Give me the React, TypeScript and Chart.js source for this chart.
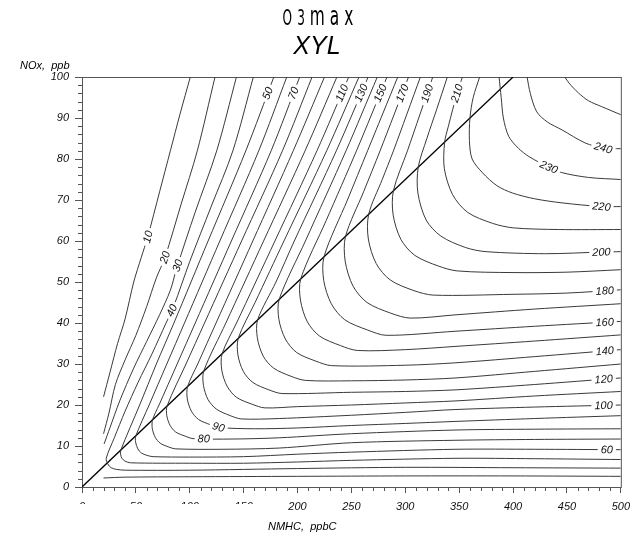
import React, { useEffect, useRef } from "react";
import { Chart, registerables } from "chart.js";
Chart.register(...registerables);

const xTicks = [0, 50, 100, 150, 200, 250, 300, 350, 400, 450, 500];
const yTicks = [0, 10, 20, 30, 40, 50, 60, 70, 80, 90, 100];

// Ozone isopleths (NMHC ppbC, NOx ppb)
const c10 = [[100.5,100],[91,91],[82,82],[72,72],[61,61],[55,56],[48,50],[40,41],[33,35],[26,28],[20,22]];
const c20 = [[123.4,100],[107,82],[92,69],[77,56],[69,51],[60,44],[50,37],[40,31],[31,25],[25,18],[20,13]];
const c30a = [[143.3,100],[125,82],[105,67],[88,53.5],[82,48],[72,42],[60,35.5],[48,29],[35,21],[26,14.5],[20.5,10.5]];
const c30b = [[20,2.2],[40,2.4],[100,2.5],[200,2.6],[300,2.7],[400,2.7],[500,2.6]];
const c40 = [[159,100],[140,82],[120,68.5],[100,55],[85,44],[78,40],[65,32.5],[52,25.5],[40,18.5],[30,12],[22.5,7],[24,5.6],[27,4.7],[32,4.3],[40,4.1],[100,4.1],[200,4.5],[300,4.8],[400,4.7],[500,4.6]];
const c50 = [[178,100],[152,82],[117,60],[85.3,40],[69,30],[53.5,20],[36,9],[35.8,8],[37,7],[40,6.3],[45,5.9],[100,5.8],[150,5.8],[200,6.1],[250,6.5],[347,7],[420,6.9],[500,6.7]];
const c60 = [[190,100],[164,82],[127.9,60],[95.1,40],[78.7,30],[62.3,20],[50,12.5],[49.7,11],[51.8,9.3],[55,8.3],[60.5,7.7],[66,7.4],[100,7.3],[150,7.4],[200,8],[250,8.5],[347,9.2],[420,9.2],[500,9.1]];
const c70 = [[202,100],[175.5,82],[138.6,60],[105.1,40],[88.3,30],[71.5,20],[65.5,16.4],[65.2,14.3],[68,12.1],[72.5,10.7],[80,9.8],[87,9.3],[130,9.2],[183,9.5],[250,10.8],[347,11.4],[420,11.6],[500,11.7]];
const c80 = [[213.5,100],[186,82],[148.1,60],[113.7,40],[96.5,30],[79,19.8],[78.7,17.4],[81.8,15],[87,13.4],[95.8,12.4],[103,11.8],[140,11.7],[183,12],[250,13],[347,13.9],[420,14.1],[500,14.2]];
const c90 = [[225,100],[196,82],[158.5,60],[124.4,40],[107.4,30],[98,24.5],[97.7,21.5],[101.5,18.5],[108,16.5],[119,15.2],[128,14.5],[160,14.2],[200,14.4],[250,15],[300,15.5],[347,16],[420,16.7],[500,17.4]];
const c100 = [[236.5,100],[207,82],[168.5,60],[133.5,40],[113,28.3],[112.7,24.8],[117,21.3],[124.7,19],[137.6,17.4],[148,16.6],[183,16.7],[250,17.5],[300,18.2],[347,18.9],[420,19.5],[500,20]];
const c110 = [[247.5,100],[218,82],[179,60],[143.4,40],[130,32.5],[129.7,28.5],[134.6,24.6],[143.2,21.9],[157.7,20.2],[169.6,19.3],[200,19.6],[250,20],[300,20.5],[347,21],[420,22.2],[500,23.3]];
const c120 = [[257,100],[227,82],[187.4,60],[160.6,45],[145,36.3],[144.7,32.2],[149.7,28.2],[158.5,25.5],[173.4,23.7],[185.5,22.8],[250,23.1],[300,23.3],[347,23.7],[420,25],[500,26.6]];
const c130 = [[265.5,100],[236,82],[197,60],[180,50],[163,40.8],[162.7,36.4],[168.2,31.9],[177.8,29],[194,27],[207.4,26],[250,25.9],[300,26.1],[347,26.6],[420,28.2],[500,30]];
const c140 = [[274,100],[245,82],[207.3,60],[183,45.8],[182.7,40.9],[188.7,36.1],[199.2,32.8],[217,30.7],[231.6,29.6],[300,29.7],[347,30.3],[420,31.8],[500,33.5]];
const c150 = [[283,100],[254.7,82],[226.6,65],[203,50.8],[202.7,45.6],[209.1,40.3],[220.5,36.8],[239.8,34.5],[255.5,33.3],[300,33.5],[347,34.3],[420,35.6],[500,37.1]];
const c160 = [[293,100],[265,82],[246.3,70],[224.6,56.2],[224.3,50.4],[231.3,44.7],[243.8,40.8],[264.9,38.3],[282.2,37],[347,38],[420,39.2],[500,40.4]];
const c170 = [[303,100],[276.6,82],[261.3,72],[244.5,61.1],[244.2,55.1],[251.5,49],[264.5,45],[286.5,42.4],[304.5,41.2],[347,42],[420,43.4],[500,44.7]];
const c180 = [[314,100],[289,82],[278.6,75],[266,66.5],[265.7,60.5],[273,54.5],[286,50.5],[308,47.9],[326,46.8],[400,47],[450,47.3],[500,48.1]];
const c190 = [[325.5,100],[302,82],[289,72.3],[288.7,66.4],[295.9,60.4],[308.8,56.5],[330.6,53.9],[348.4,52.7],[400,52.3],[450,52.4],[500,53]];
const c200 = [[339,100],[329,92],[320,85],[312,78],[311.7,71.7],[319.4,65.1],[333,61.2],[356,58.4],[375,57.4],[430,56.9],[482,57.3],[500,57.4]];
const c210 = [[353,100],[348,96],[340,88],[336.5,84.1],[336.2,77.7],[343.9,71.3],[357.8,67],[381,64.3],[400.4,63.2],[442,62.8],[500,62.8]];
const c220 = [[369,100],[363,95],[360,90],[359.5,84.5],[362,80],[371.8,76.6],[385,73.5],[399.5,71.7],[420,70.3],[445.4,69.3],[482,68.4],[500,68.4]];
const c230 = [[387,100],[389,95],[391,90],[396,85.5],[405,82.6],[414.7,80.6],[431.6,78.2],[445,76.7],[470,75.5],[500,75]];
const c240 = [[413,100],[416,96],[422,91.5],[432,89],[445.4,87.1],[467,83.9],[483.7,82.7],[500,82.5]];
const c250 = [[448,100],[452,98.5],[460.7,96.1],[470,94.2],[482,92.8],[500,90.8]];

// 4:1 NMHC/NOx ridge line
const ridge = [[0,0],[400,100]];

const contours: [string, number[][]][] = [
  ["10", c10], ["20", c20], ["30", c30a], ["30b", c30b], ["40", c40], ["50", c50],
  ["60", c60], ["70", c70], ["80", c80], ["90", c90], ["100", c100], ["110", c110],
  ["120", c120], ["130", c130], ["140", c140], ["150", c150], ["160", c160],
  ["170", c170], ["180", c180], ["190", c190], ["200", c200], ["210", c210],
  ["220", c220], ["230", c230], ["240", c240], ["250", c250],
];

// contour labels: [level, approx NMHC, approx NOx]
const contourLabels: [string, number, number][] = [
  ["10", 61, 61], ["20", 77, 56], ["30", 88.5, 54], ["40", 84, 43],
  ["50", 172.5, 96], ["70", 196.5, 96], ["110", 242, 96], ["130", 260, 96],
  ["150", 277.5, 96], ["170", 297.5, 96], ["190", 320, 96], ["210", 348, 96],
  ["240", 483.7, 82.7], ["230", 433, 77.9], ["220", 482, 68.4], ["200", 482, 57.3],
  ["180", 485, 48.1], ["160", 485, 40.4], ["140", 485, 33.5], ["120", 484, 26.6],
  ["100", 484, 20], ["60", 487, 9.1], ["90", 126.5, 14.5], ["80", 113, 11.8],
];

const FONT = "'Liberation Sans', Arial, sans-serif";

export default function App() {
  const ref = useRef<HTMLCanvasElement>(null);
  useEffect(() => {
    document.body.style.margin = "0";
    const canvas = ref.current!;
    const toXY = (a: number[][]) => a.map(([x, y]) => ({ x, y }));
    const datasets: any[] = contours.map(([lvl, pts]) => ({
      label: lvl,
      data: toXY(pts),
      borderColor: "#3a3a3a",
      borderWidth: 1,
      pointRadius: 0,
      tension: 0.3,
      fill: false,
    }));
    datasets.push({
      label: "ridge",
      data: toXY(ridge),
      borderColor: "#000",
      borderWidth: 1.3,
      pointRadius: 0,
      tension: 0,
      fill: false,
    });

    const framePlugin = {
      id: "frame",
      beforeDatasetsDraw(chart: any) {
        const { ctx, chartArea: ca, scales } = chart;
        ctx.save();
        ctx.strokeStyle = "#555";
        ctx.lineWidth = 1;
        ctx.strokeRect(ca.left + 0.5, ca.top + 0.5, ca.right - ca.left, ca.bottom - ca.top);
        ctx.beginPath();
        for (let v = 10; v < 500; v += 10) {
          if (v % 50 === 0) continue;
          const px = Math.round(scales.x.getPixelForValue(v)) + 0.5;
          ctx.moveTo(px, ca.bottom);
          ctx.lineTo(px, ca.bottom + 4);
        }
        for (let v = 2; v < 100; v += 2) {
          if (v % 10 === 0) continue;
          const py = Math.round(scales.y.getPixelForValue(v)) + 0.5;
          ctx.moveTo(ca.left - 4, py);
          ctx.lineTo(ca.left, py);
        }
        ctx.stroke();
        ctx.restore();
      },
    };

    const labelPlugin = {
      id: "contourLabels",
      afterDatasetsDraw(chart: any) {
        const { ctx, scales } = chart;
        ctx.save();
        ctx.font = `italic 11px ${FONT}`;
        ctx.textAlign = "center";
        ctx.textBaseline = "middle";
        for (const [lvl, lx, ly] of contourLabels) {
          const entry = contours.find((c) => c[0] === lvl);
          if (!entry) continue;
          const pts = entry[1].map(([x, y]) => [scales.x.getPixelForValue(x), scales.y.getPixelForValue(y)]);
          const tx = scales.x.getPixelForValue(lx);
          const ty = scales.y.getPixelForValue(ly);
          let best = { d: Infinity, x: tx, y: ty, a: 0 };
          for (let i = 0; i < pts.length - 1; i++) {
            const [x1, y1] = pts[i];
            const [x2, y2] = pts[i + 1];
            const dx = x2 - x1, dy = y2 - y1;
            const len2 = dx * dx + dy * dy || 1;
            let t = ((tx - x1) * dx + (ty - y1) * dy) / len2;
            t = Math.max(0, Math.min(1, t));
            const px = x1 + t * dx, py = y1 + t * dy;
            const d = (px - tx) ** 2 + (py - ty) ** 2;
            if (d < best.d) best = { d, x: px, y: py, a: Math.atan2(dy, dx) };
          }
          let a = best.a;
          if (a > Math.PI / 2) a -= Math.PI;
          if (a < -Math.PI / 2) a += Math.PI;
          const w = ctx.measureText(lvl).width;
          ctx.save();
          ctx.translate(best.x, best.y);
          ctx.rotate(a);
          ctx.fillStyle = "#fff";
          ctx.fillRect(-w / 2 - 3, -5, w + 6, 10);
          ctx.fillStyle = "#111";
          ctx.fillText(lvl, 0, 0.5);
          ctx.restore();
        }
        ctx.restore();
      },
    };

    const textPlugin = {
      id: "texts",
      afterDraw(chart: any) {
        const { ctx } = chart;
        ctx.save();
        // partially hidden x tick labels (as in reference)
        ctx.fillStyle = "#fff";
        ctx.fillRect(66, 504, 214, 14);
        ctx.fillStyle = "#000";
        // title "O3max" in a tall condensed face
        const title = "O3max";
        ctx.font = `22px 'DejaVu Sans', sans-serif`;
        ctx.textBaseline = "alphabetic";
        ctx.textAlign = "left";
        const gap = 5;
        const chars = title.split("");
        const isLower = (ch: string) => ch >= "a" && ch <= "z";
        const widths = chars.map((ch) => ctx.measureText(ch).width * (isLower(ch) ? 0.7 : 0.55));
        const total = widths.reduce((s, w) => s + w, 0) + gap * (chars.length - 1);
        let x = 318 - total / 2;
        chars.forEach((ch, i) => {
          const lower = isLower(ch);
          ctx.save();
          ctx.translate(x, 25);
          ctx.scale(lower ? 0.7 : 0.55, lower ? 1.2 : 1);
          ctx.fillText(ch, 0, 0);
          ctx.restore();
          x += widths[i] + gap;
        });
        ctx.font = `italic 25px ${FONT}`;
        ctx.textAlign = "center";
        ctx.fillText("XYL", 317, 54);
        ctx.font = `italic 11px ${FONT}`;
        ctx.textAlign = "left";
        ctx.fillText("NOx,  ppb", 20, 69);
        ctx.fillText("NMHC,  ppbC", 268, 530);
        ctx.restore();
      },
    };

    const chart = new Chart(canvas, {
      type: "line",
      data: { datasets },
      options: {
        animation: false,
        responsive: false,
        devicePixelRatio: 1,
        layout: { padding: { top: 77, right: 11, left: 0, bottom: 0 } },
        plugins: { legend: { display: false }, tooltip: { enabled: false }, title: { display: false } },
        scales: {
          x: {
            type: "linear",
            min: 0,
            max: 500,
            afterBuildTicks: (s: any) => { s.ticks = xTicks.map((v) => ({ value: v })); },
            afterFit: (s: any) => { s.height = 53; },
            grid: { drawOnChartArea: false, drawTicks: true, tickLength: 6, color: "#555" },
            border: { display: false },
            ticks: { font: { family: FONT, size: 11, style: "italic" }, color: "#111", padding: 7, maxRotation: 0, autoSkip: false },
          },
          y: {
            type: "linear",
            min: 0,
            max: 100,
            afterBuildTicks: (s: any) => { s.ticks = yTicks.map((v) => ({ value: v })); },
            afterFit: (s: any) => { s.width = 82; },
            grid: { drawOnChartArea: false, drawTicks: true, tickLength: 7, color: "#555" },
            border: { display: false },
            ticks: { font: { family: FONT, size: 11, style: "italic" }, color: "#111", padding: 6, autoSkip: false },
          },
        },
      },
      plugins: [framePlugin, labelPlugin, textPlugin],
    } as any);
    return () => chart.destroy();
  }, []);
  return (
    <div style={{ position: "fixed", left: 0, top: 0 }}>
      <canvas ref={ref} width={637} height={540} style={{ width: 637, height: 540, display: "block" }} />
    </div>
  );
}
